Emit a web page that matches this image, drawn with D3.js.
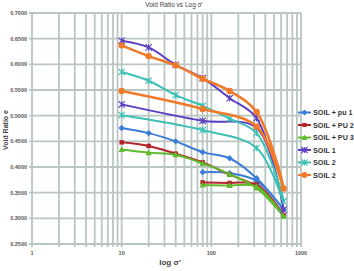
<!DOCTYPE html>
<html>
<head>
<meta charset="utf-8">
<script src="https://cdn.jsdelivr.net/npm/d3@7"></script>
<style>
  body { margin: 0; background: #fff; }
  text { font-family: "Liberation Sans", Arial, sans-serif; }
</style>
</head>
<body>
<script>
const W = 354, H = 271;
const plotL = 32, plotR = 301, plotT = 13, plotB = 244;

// stress steps: loading 10..640, then unloading
const loadStress = [10, 20, 40, 80, 160, 320, 640];
const pu1Stress = [...loadStress, 320, 160, 80];
const pu1Void = [0.476, 0.466, 0.450, 0.429, 0.417, 0.378, 0.317, 0.373, 0.388, 0.390];
const pu2Stress = [...loadStress, 320, 160, 80];
const pu2Void = [0.448, 0.441, 0.426, 0.409, 0.385, 0.362, 0.306, 0.366, 0.369, 0.370];
const pu3Stress = [...loadStress, 320, 160, 80];
const pu3Void = [0.434, 0.428, 0.424, 0.407, 0.386, 0.359, 0.304, 0.362, 0.364, 0.365];
const soil1Stress = [...loadStress, 320, 80, 10];
const soil1Void = [0.646, 0.633, 0.599, 0.573, 0.534, 0.495, 0.317, 0.476, 0.490, 0.522];
const soil2aStress = [...loadStress, 320, 80, 10];
const soil2aVoid = [0.585, 0.568, 0.540, 0.519, 0.494, 0.466, 0.333, 0.437, 0.472, 0.501];
const soil2bStress = [...loadStress, 320, 80, 10];
const soil2bVoid = [0.637, 0.616, 0.598, 0.572, 0.548, 0.507, 0.358, 0.479, 0.513, 0.548];

const seriesNames = ['SOIL + pu 1', 'SOIL + PU 2', 'SOIL + PU 3', 'SOIL 1', 'SOIL 2', 'SOIL 2'];
const yTicks = [0.25, 0.30, 0.35, 0.40, 0.45, 0.50, 0.55, 0.60, 0.65, 0.70];
const xTicks = [1, 10, 100, 1000];

const series = [
  { name: seriesNames[0], xs: pu1Stress, ys: pu1Void, color: '#3b7dd8', mark: 'diamond', w: 2 },
  { name: seriesNames[1], xs: pu2Stress, ys: pu2Void, color: '#b3232b', mark: 'square', w: 2 },
  { name: seriesNames[2], xs: pu3Stress, ys: pu3Void, color: '#5fba2c', mark: 'triangle', w: 2 },
  { name: seriesNames[3], xs: soil1Stress, ys: soil1Void, color: '#5b3ec4', mark: 'x', w: 2 },
  { name: seriesNames[4], xs: soil2aStress, ys: soil2aVoid, color: '#3cc0b4', mark: 'x', w: 2 },
  { name: seriesNames[5], xs: soil2bStress, ys: soil2bVoid, color: '#f07a2a', mark: 'circle', w: 2.6 }
];

const x = d3.scaleLog().domain([1, 1000]).range([plotL, plotR]);
const y = d3.scaleLinear().domain([0.25, 0.70]).range([plotB, plotT]);

const svg = d3.select('body').append('svg')
    .attr('width', W)
    .attr('height', H);

const gridColor = '#b9c6c2';

// vertical grid (log minor + major)
const vLines = [];
for (let d = 1; d < 1000; d *= 10) for (let k = 1; k < 10; k++) vLines.push(d * k);
vLines.push(1000);
svg.append('g').selectAll('line').data(vLines).join('line')
    .attr('x1', d => x(d)).attr('x2', d => x(d))
    .attr('y1', plotT).attr('y2', plotB + 3)
    .attr('stroke', gridColor).attr('stroke-width', 1.8);

// horizontal grid
svg.append('g').selectAll('line').data(yTicks).join('line')
    .attr('x1', plotL - 3).attr('x2', plotR)
    .attr('y1', d => y(d)).attr('y2', d => y(d))
    .attr('stroke', gridColor).attr('stroke-width', 1.8);

// tick labels
svg.append('g').selectAll('text').data(yTicks).join('text')
    .attr('x', plotL - 5).attr('y', d => y(d) + 2)
    .attr('text-anchor', 'end')
    .attr('font-size', 5.5).attr('font-weight', 'bold').attr('fill', '#555')
    .text(d => d.toFixed(4));

svg.append('g').selectAll('text').data(xTicks).join('text')
    .attr('x', d => x(d)).attr('y', plotB + 11)
    .attr('text-anchor', 'middle')
    .attr('font-size', 5.5).attr('font-weight', 'bold').attr('fill', '#555')
    .text(d => d);

// titles
svg.append('text')
    .attr('x', 174).attr('y', 7)
    .attr('text-anchor', 'middle')
    .attr('font-size', 6.5).attr('fill', '#444')
    .text("Void Ratio vs Log σ'");

svg.append('text')
    .attr('x', 170).attr('y', 265)
    .attr('text-anchor', 'middle')
    .attr('font-size', 8).attr('font-weight', 'bold').attr('fill', '#444')
    .text("log σ'");

svg.append('text')
    .attr('transform', 'translate(8,130) rotate(-90)')
    .attr('text-anchor', 'middle')
    .attr('font-size', 7).attr('font-weight', 'bold').attr('fill', '#444')
    .text('Void Ratio e');

const line = d3.line()
    .x(d => x(d[0]))
    .y(d => y(d[1]))
    .curve(d3.curveCatmullRom.alpha(0.5));

function drawMark(g, type, cx, cy, color, s) {
  if (type === 'circle') {
    g.append('circle').attr('cx', cx).attr('cy', cy).attr('r', s * 0.8).attr('fill', color);
  } else if (type === 'square') {
    g.append('rect').attr('x', cx - s * 0.7).attr('y', cy - s * 0.7)
        .attr('width', s * 1.4).attr('height', s * 1.4).attr('fill', color);
  } else if (type === 'diamond') {
    g.append('path').attr('d', `M${cx},${cy - s}L${cx + s},${cy}L${cx},${cy + s}L${cx - s},${cy}Z`)
        .attr('fill', color);
  } else if (type === 'triangle') {
    g.append('path').attr('d', `M${cx},${cy - s}L${cx + s},${cy + s * 0.8}L${cx - s},${cy + s * 0.8}Z`)
        .attr('fill', color);
  } else {
    g.append('path').attr('d', `M${cx - s},${cy - s}L${cx + s},${cy + s}M${cx - s},${cy + s}L${cx + s},${cy - s}M${cx},${cy - s}L${cx},${cy + s}`)
        .attr('stroke', color).attr('stroke-width', 1.1);
  }
}

const plot = svg.append('g');
series.forEach(s => {
  const pts = s.xs.map((v, i) => [v, s.ys[i]]);
  const g = plot.append('g');
  g.append('path')
      .attr('d', line(pts))
      .attr('fill', 'none')
      .attr('stroke', s.color)
      .attr('stroke-width', s.w);
  pts.forEach(p => drawMark(g, s.mark, x(p[0]), y(p[1]), s.color, s.mark === 'circle' ? 4 : 3.2));
});

// legend
const legend = svg.append('g');
series.forEach((s, i) => {
  const ly = 112.5 + i * 12.5;
  legend.append('line')
      .attr('x1', 298).attr('x2', 311)
      .attr('y1', ly).attr('y2', ly)
      .attr('stroke', s.color).attr('stroke-width', 2);
  drawMark(legend, s.mark, 304.5, ly, s.color, s.mark === 'circle' ? 3.6 : 3);
  legend.append('text')
      .attr('x', 313).attr('y', ly + 2.8)
      .attr('font-size', 7.2).attr('font-weight', 'bold').attr('fill', '#333')
      .text(s.name);
});
</script>
</body>
</html>
